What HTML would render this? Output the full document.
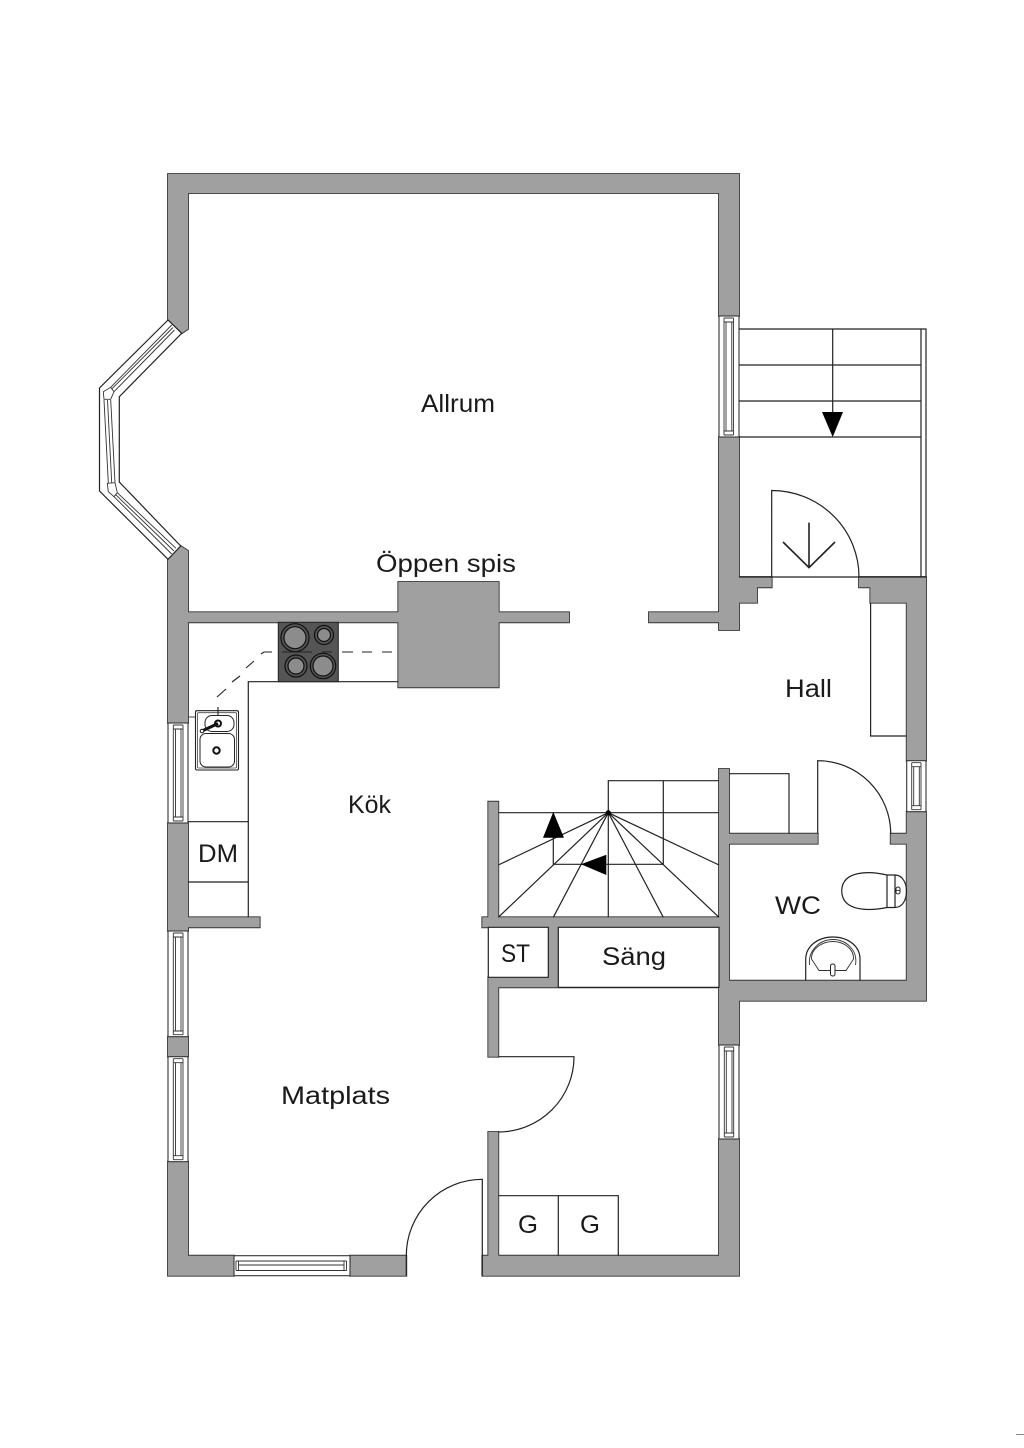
<!DOCTYPE html>
<html><head><meta charset="utf-8"><style>
html,body{margin:0;padding:0;background:#fff}
svg{display:block}
text{font-family:"Liberation Sans",sans-serif;font-size:25px;fill:#1a1a1a}
.l{fill:none;stroke:#222;stroke-width:1.2}
.t{fill:none;stroke:#333;stroke-width:.9}
.win{fill:#fff;stroke:#333;stroke-width:1.1}
</style></head><body>
<svg width="1024" height="1448" viewBox="0 0 1024 1448" xmlns="http://www.w3.org/2000/svg">
<rect width="1024" height="1448" fill="#fff"/>
<defs>
<path id="w" d="M168 174H739V316H719V193H188V329L181.7 333.3 168 320Z
M168 559.3L180.7 546 188 550.7V612.3H398.3V582H498.7V612.3H569V622.3H498.7V687.3H398.3V622.3H188V723H168Z
M168 823H188V917.3H259.7V927.3H188V931H168Z
M168 1036.7H188V1056.7H168Z
M168 1161.7H188V1255.7H234V1275.7H168Z
M350 1255.7H406.3V1275.7H350Z
M482.3 1255.7H488.3V1132H498.3V1255.7H719V1139H739V1275.7H482.3Z
M719 437H739V577H771.7V587.3H757V602.7H739V630H719V622.3H649V612.3H719Z
M859 577H926V760.7H906.7V602.7H870.3V587.3H859Z
M906.7 811.7H926V1000.7H739V1045H719V987.3H558.3V977.3H548.3V927.3H482.3V917.3H488.3V801.7H498.3V917.3H719V769H729V833.7H817.7V843.7H729V980.7H906.7V843.7H890.7V833.7H906.7Z
M488.3 977.3H558.3V987.3H498.3V1056.7H488.3Z"/>
</defs>
<use href="#w" fill="#333" stroke="#333" stroke-width="1.8" stroke-linejoin="miter"/>
<use href="#w" fill="#a0a0a0"/>

<!-- white interior fixes -->
<path d="M558.3 927.3H719V987.3H558.3Z" fill="#fff" stroke="#222" stroke-width="1.2"/>
<path d="M488.3 927.3H548.3V977.3H488.3Z" fill="#fff" stroke="#222" stroke-width="1.2"/>

<!-- bay window -->
<polygon points="168,320 99.5,388 99.5,491 168,559.3 180.7,546 119.3,482 119.3,396.7 181.7,333.3" fill="#fff" stroke="#222" stroke-width="1.2"/>
<path class="t" d="M171.7 325L110.7 387.3M173 327.5L112 388.7M174.5 330L114 391.7M103.3 391.7L110.7 387.3 114 391.7 110.7 399.3 104 399.3ZM104 400L108.3 482.7M107.5 400L111.7 482.7M110.7 400L115 482.7M107.3 483.3L115 482.7 117.3 492.7 114 496.7 108.3 491.7ZM114 496.7L171.7 554M115.7 494.7L174 551M117.3 492.7L176 548.3"/>

<!-- windows -->
<g class="win">
<rect x="168" y="723" width="20" height="100"/>
<rect x="168" y="931" width="20" height="105.7"/>
<rect x="168" y="1056.7" width="20" height="105"/>
<rect x="719" y="316" width="20" height="121"/>
<rect x="719" y="1045" width="20" height="94"/>
<rect x="906.7" y="760.7" width="19.3" height="51"/>
<rect x="234" y="1255.7" width="116" height="20"/>
</g>
<g class="t">
<path d="M173.3 725V821M183 725V821M175.5 729V817M181 729V817M173.3 725H183M173.3 729H183M173.3 817H183M173.3 821H183"/>
<path d="M173.3 933V1034.7M183 933V1034.7M175.5 937V1031M181 937V1031M173.3 933H183M173.3 937H183M173.3 1031H183M173.3 1034.7H183"/>
<path d="M173.3 1058.7V1159.7M183 1058.7V1159.7M175.5 1062.7V1155.7M181 1062.7V1155.7M173.3 1058.7H183M173.3 1062.7H183M173.3 1155.7H183M173.3 1159.7H183"/>
<path d="M724 318V435M733.5 318V435M726 322V431M731.8 322V431M724 318H733.5M724 322H733.5M724 431H733.5M724 435H733.5"/>
<path d="M724.3 1047V1137M733.7 1047V1137M726.3 1051V1133M732 1051V1133M724.3 1047H733.7M724.3 1051H733.7M724.3 1133H733.7M724.3 1137H733.7"/>
<path d="M911.7 762.7V809.7M921 762.7V809.7M913.7 766.7V805.7M919.3 766.7V805.7M911.7 762.7H921M911.7 766.7H921M911.7 805.7H921M911.7 809.7H921"/>
<path d="M236 1261V1270.5M346.5 1261V1270.5M236 1261H346.5M238.5 1265H344M236 1270.5H346.5M238.5 1261V1270.5M344 1261V1270.5"/>
</g>

<!-- entry stairs -->
<path class="l" d="M739 329H926V577M921 329V577M739 365H921M739 401H921M739 437H921M832.7 329V415M739 577H926"/>
<polygon points="822,412 843,412 832.7,437" fill="#000"/>
<!-- entry door -->
<path class="l" d="M771.7 577V490.5A87.3 86.5 0 0 1 859 577"/>
<path d="M809 522.6V567.6M783 542L809 567.6 835 542" fill="none" stroke="#222" stroke-width="1.6"/>

<!-- hall closet -->
<path class="l" d="M870.6 603V736H906.7"/>

<!-- kitchen -->
<path class="l" d="M248.3 917.3V681.7H398.3M188 821.7H248.3M188 882H248.3"/>
<rect x="278.3" y="622.3" width="60" height="59.4" fill="#555" stroke="#222" stroke-width="1"/>
<g fill="#8c8c8c" stroke="#111" stroke-width="1.2">
<circle cx="295" cy="637.7" r="14" fill="none"/><circle cx="295" cy="637.7" r="11"/>
<circle cx="324" cy="635" r="9.5" fill="none"/><circle cx="324" cy="635" r="6.5"/>
<circle cx="296" cy="666" r="11" fill="none"/><circle cx="296" cy="666" r="8"/>
<circle cx="323" cy="666" r="12.7" fill="none"/><circle cx="323" cy="666" r="10"/>
</g>
<path d="M282 652H312M322 652H332" stroke="#222" stroke-width="1" fill="none"/>
<path d="M342 652H353M362 652H372M382 652H392M272 652H264L261 654M254 661L246 668M240 676L232 682M226 689L217 697" fill="none" stroke="#222" stroke-width="1.1"/>
<path class="t" d="M188 717H196"/>
<rect x="195.5" y="710.7" width="43" height="59.3" rx="1.5" fill="#fff" stroke="#222" stroke-width="1.1"/>
<rect x="197.5" y="712.7" width="39" height="55.3" rx="1" fill="none" stroke="#444" stroke-width=".8"/>
<path d="M218 707V717" stroke="#222" stroke-width="1.1" fill="none"/>
<rect x="205" y="715.5" width="29" height="16" rx="7" fill="#fff" stroke="#222" stroke-width="1"/>
<rect x="200" y="733.5" width="34.5" height="33.5" rx="6" fill="#fff" stroke="#222" stroke-width="1"/>
<circle cx="216.5" cy="750.5" r="3.2" fill="#fff" stroke="#111" stroke-width="2"/>
<circle cx="218" cy="723.5" r="3" fill="#fff" stroke="#111" stroke-width="2"/>
<path d="M218 723.5L202 731" stroke="#111" stroke-width="3" fill="none"/>
<circle cx="202" cy="731" r="1.8" fill="#fff" stroke="#111" stroke-width="1"/>

<!-- interior stairs -->
<path class="l" d="M498.3 812.7H719M608.3 812.7V780.7H719M663.3 780.7V864.3H553.3V812.7M608.3 812.7L498.3 865M608.3 812.7L498.3 917.3M608.3 812.7L553.3 917.3M608.3 812.7V917.3M608.3 812.7L663.3 917.3M608.3 812.7L719 917.3M608.3 812.7L719 865"/>
<circle cx="608.3" cy="812.7" r="2.5" fill="#000"/>
<polygon points="553.3,812 543,837.7 564,837.7" fill="#000"/>
<polygon points="581,864.3 606.3,854.7 606.3,875" fill="#000"/>

<!-- WC storage and door -->
<path class="l" d="M729 773.7H789V833.7"/>
<path class="l" d="M817.7 833.7V760.7A73 73 0 0 1 890.7 833.7"/>

<!-- toilet -->
<path class="l" d="M887 875C870 871 842 870 841.7 891C842 912 870 911 887 907.5ZM887 875L895 875V907.5H887M895 875C903 875 906.5 884 906.5 891C906.5 899 903 907.5 895 907.5"/>
<rect x="896" y="887" width="4" height="7" rx="2" fill="none" stroke="#222" stroke-width="1"/>
<path class="t" d="M896 890.5H900"/>
<!-- sink WC -->
<path class="l" d="M805.7 980.7V959C806 946 818 937 832.8 937C848 937 860 946 860 959V980.7"/>
<path class="t" d="M809.5 965C808 950 820 939.5 832.8 939.5C846 939.5 858 950 855.5 965"/>
<path class="t" d="M811.5 959C811 949 822 941.5 832.8 941.5C844 941.5 854 949 853.5 959L846 970.5H819Z"/>
<rect x="830.5" y="964" width="4.5" height="12" rx="2" fill="#fff" stroke="#222" stroke-width="1"/>

<!-- bedroom doors etc -->
<path class="l" d="M498.3 1056.7H574A75.7 75.3 0 0 1 498.3 1132"/>
<path class="l" d="M482.3 1275.7V1179.3A76 76.4 0 0 0 406.3 1255.7V1275.7"/>
<path class="l" d="M498.3 1195.7H618.3V1255.7M558.3 1195.7V1255.7"/>

<!-- labels -->
<text x="421" y="412" textLength="74" lengthAdjust="spacingAndGlyphs">Allrum</text>
<text x="376" y="572" textLength="140" lengthAdjust="spacingAndGlyphs">Öppen spis</text>
<text x="785" y="697" textLength="47" lengthAdjust="spacingAndGlyphs">Hall</text>
<text x="348" y="813" textLength="43" lengthAdjust="spacingAndGlyphs">Kök</text>
<text x="198" y="862" textLength="40" lengthAdjust="spacingAndGlyphs">DM</text>
<text x="775" y="914" textLength="46" lengthAdjust="spacingAndGlyphs">WC</text>
<text x="501" y="962" textLength="29" lengthAdjust="spacingAndGlyphs">ST</text>
<text x="602" y="965" textLength="64" lengthAdjust="spacingAndGlyphs">Säng</text>
<text x="518" y="1233" textLength="20" lengthAdjust="spacingAndGlyphs">G</text>
<text x="580" y="1233" textLength="20" lengthAdjust="spacingAndGlyphs">G</text>
<text x="281" y="1104" textLength="109" lengthAdjust="spacingAndGlyphs">Matplats</text>
<rect x="1016" y="1434" width="8" height="1" fill="#888"/>
</svg>
</body></html>
